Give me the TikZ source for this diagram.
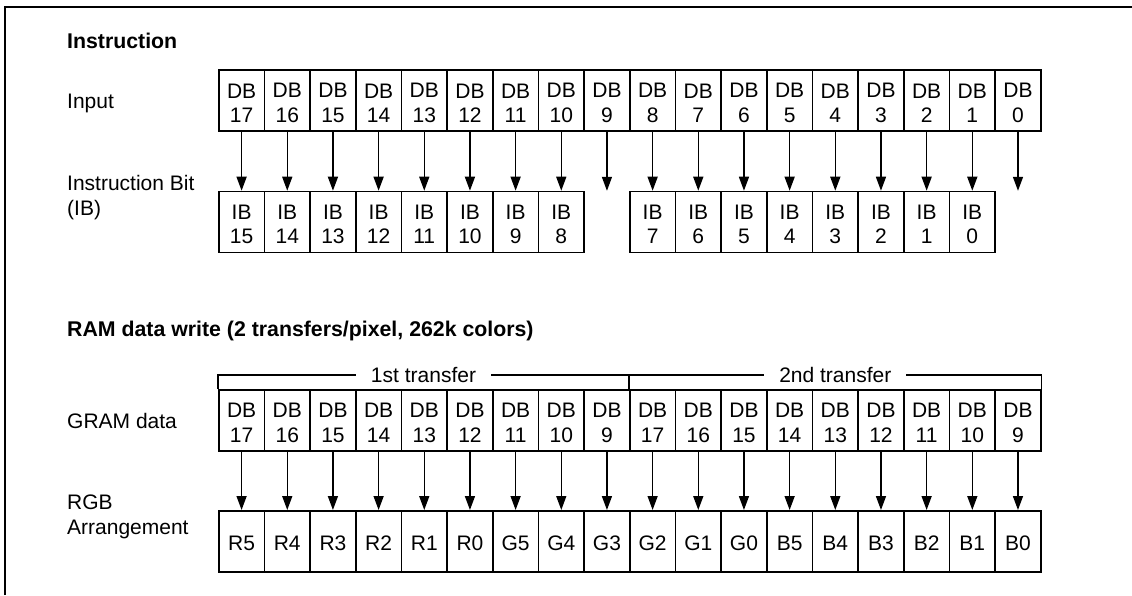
\documentclass[tikz,border=0pt]{standalone}
\usepackage{fontspec}
\setmainfont{Liberation Sans}
\usetikzlibrary{arrows.meta,calc}
\begin{document}
\begin{tikzpicture}[x=1pt,y=-1pt,
  cell/.style={draw, line width=1.5pt, minimum width=45.67pt, minimum height=61pt,
    inner sep=0pt, anchor=north west, align=center, font=\fontsize{21}{24.4}\selectfont},
  lbl/.style={anchor=base west, align=left, inner sep=0pt, font=\fontsize{21}{24.5}\selectfont},
  hdr/.style={anchor=base west, inner sep=0pt, font=\bfseries\fontsize{21.3}{25}\selectfont},
  arr/.style={-{Triangle[length=14pt,width=10pt]}, line width=1.5pt},
  brk/.style={line width=1.5pt},
  brktext/.style={fill=white, inner xsep=15pt, inner ysep=0pt, font=\fontsize{21}{24}\selectfont}]
\useasboundingbox (0,0) rectangle (1132,595);
% frame
\draw[line width=2pt] (5,595) -- (5,7) -- (1132,7);

% ---------- Instruction ----------
\node[hdr] (h1) at (67,48) {Instruction};
\node[lbl] (linput) at (67,108) {Input};
\node[lbl] (lib) at (67,215) {Instruction Bit\\(IB)};

\foreach \n [count=\i from 0] in {17,16,15,14,13,12,11,10,9,8,7,6,5,4,3,2,1,0}
  \node[cell] (in\i) at ({218+45.67*\i},69.3) {\rule{0pt}{19.4pt}DB\\\n};

\foreach \n [count=\i from 0] in {15,14,13,12,11,10,9,8}
  \node[cell] (ib\i) at ({218+45.67*\i},190.7) {\rule{0pt}{19.4pt}IB\\\n};
\foreach \n [count=\i from 9] in {7,6,5,4,3,2,1,0}
  \node[cell] (ib\i) at ({218+45.67*\i},190.7) {\rule{0pt}{19.4pt}IB\\\n};

\foreach \i in {0,1,2,3,4,5,6,7,9,10,11,12,13,14,15,16}
  \draw[arr] (in\i.south) -- (ib\i.north);
\path (in8.south) ++(0,59) coordinate (e8);
\path (in17.south) ++(0,59) coordinate (e17);
\draw[arr] (in8.south) -- (e8);
\draw[arr] (in17.south) -- (e17);

% ---------- RAM data write ----------
\node[hdr] (h2) at (67,336) {RAM data write (2 transfers/pixel, 262k colors)};
\node[lbl] (lgram) at (67,428) {GRAM data};
\node[lbl] (lrgb) at (67,534) {RGB\\Arrangement};

\foreach \n [count=\i from 0] in {17,16,15,14,13,12,11,10,9,17,16,15,14,13,12,11,10,9}
  \node[cell] (g\i) at ({218+45.67*\i},389) {\rule{0pt}{19.4pt}DB\\\n};

\foreach \n [count=\i from 0] in {R5,R4,R3,R2,R1,R0,G5,G4,G3,G2,G1,G0,B5,B4,B3,B2,B1,B0}
  \node[cell] (c\i) at ({218+45.67*\i},510) {\rule{0pt}{19.4pt}\n};

\foreach \i in {0,...,17}
  \draw[arr] (g\i.south) -- (c\i.north);

% bracket
\path (g0.north west) ++(0,-14) coordinate (bl);
\path (g17.north east) ++(0,-14) coordinate (br);
\path (g9.north west) ++(0,-14) coordinate (bm);
\draw[brk] (g0.north west) -- (bl) -- (br) -- (g17.north east);
\draw[brk] (bm) -- (g9.north west);
\node[brktext] (t1) at ($(bl)!0.5!(bm)$) {1st transfer};
\node[brktext] (t2) at ($(bm)!0.5!(br)$) {2nd transfer};
\end{tikzpicture}
\end{document}
